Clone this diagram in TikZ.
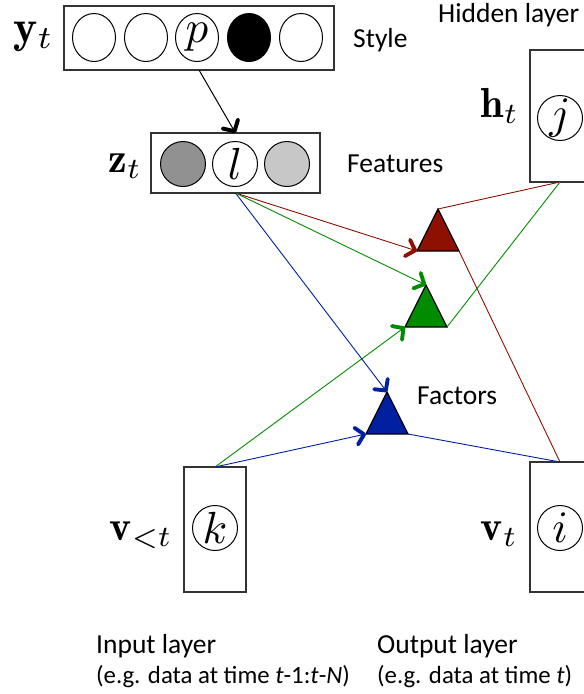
\documentclass[tikz,border=0pt]{standalone}
\usepackage{graphicx}
\usepackage{amsmath}
\usepackage{fontspec}
\newfontfamily\calibri{Carlito}
\usetikzlibrary{arrows.meta,shapes.geometric}

\definecolor{facred}{RGB}{142,16,0}
\definecolor{facgreen}{RGB}{0,140,0}
\definecolor{facblue}{RGB}{0,32,160}

% big math for layer names and unit letters
\newcommand{\layername}[1]{\scalebox{4.2}{$#1$}}
\newcommand{\unitname}[1]{\scalebox{4.5}{$#1$}}

\begin{document}
\begin{tikzpicture}[x=1pt,y=-1pt,
    box/.style={draw=black!80,line width=1.2pt,inner sep=0pt,outer sep=0pt},
    unit/.style={circle,draw,line width=1pt,minimum size=45pt,inner sep=0pt},
    topunit/.style={ellipse,draw,line width=1pt,minimum width=43pt,minimum height=48pt,
        inner sep=0pt},
    fac/.style={isosceles triangle,isosceles triangle stretches,shape border rotate=90,
        minimum width=42pt,minimum height=42pt,inner sep=0pt,outer sep=0pt,
        draw=black,line width=1.2pt,anchor=apex},
    lab/.style={anchor=base east,inner sep=0pt},
    txt/.style={font=\calibri\fontsize{27.5}{30}\selectfont,anchor=base west,inner sep=0pt},
    subtxt/.style={txt,font=\calibri\fontsize{24.8}{30}\selectfont},
    link/.style={line width=0.9pt},
    arr/.style={-{Straight Barb[length=8pt,width=17pt,line width=3pt 1,round]}}
]
\useasboundingbox (0,0) rectangle (584,694);
\clip (0,0) rectangle (584,694);

% style layer
\node[box,minimum width=270pt,minimum height=64pt] (ybox) at (199,38) {};
\node[topunit] (y1) at (94,37.5) {};
\node[topunit] (y2) at (146,37.5) {};
\node[topunit] (y3) at (197,37.5) {\unitname{p}};
\node[topunit,fill=black] (y4) at (249,37.5) {};
\node[topunit] (y5) at (301,37.5) {};
\node[lab] (ylab) at (54,42) {\scalebox{4.6}{$\mathbf{y}_t$}};
\node[txt] (stylelab) at (353,47) {Style};

% feature layer
\node[box,minimum width=169pt,minimum height=60pt] (zbox) at (235.5,163) {};
\node[unit,fill=black!43] (z1) at (183,164) {};
\node[unit] (z2) at (235,164) {\unitname{l}};
\node[unit,fill=black!22] (z3) at (287,164) {};
\node[lab] (zlab) at (142,172) {\layername{\mathbf{z}_t}};
\node[txt] (featlab) at (347,172) {Features};

% hidden layer
\node[box,minimum width=60pt,minimum height=132pt] (hbox) at (560,116) {};
\node[unit] (hj) at (560,118) {\unitname{j}};
\node[lab] (hlab) at (519,117) {\layername{\mathbf{h}_t}};
\node[txt] (hidlab) at (438,22) {Hidden layer};

% input and output layers
\node[box,minimum width=62pt,minimum height=125pt] (vibox) at (215,529.5) {};
\node[unit] (vk) at (215,528) {\unitname{k}};
\node[lab] (vilab) at (173,540) {\layername{\mathbf{v}_{<t}}};
\node[box,minimum width=60pt,minimum height=130pt] (vobox) at (560,527) {};
\node[unit] (vi) at (560,528) {\unitname{i}};
\node[lab] (volab) at (518,540) {\layername{\mathbf{v}_t}};
\node[txt] (inlab) at (96,653) {Input layer};
\node[subtxt] (insub) at (96,683) {(e.g. data at time \textit{t}-1:\textit{t}-\textit{N})};
\node[txt] (outlab) at (377,653) {Output layer};
\node[subtxt] (outsub) at (377,683) {(e.g. data at time \textit{t})};

% factors
\node[fac,fill=facred] (fr) at (438,209) {};
\node[fac,fill=facgreen] (fg) at (426,285) {};
\node[fac,fill=facblue] (fb) at (387,392) {};
\node[txt] (faclab) at (417,404) {Factors};

% connections
\draw[arr,line width=1pt] (ybox.south) -- (zbox.north);
\draw[link,facred,arr] (zbox.south) -- (fr.left corner);
\draw[link,facred] (fr.apex) -- (hbox.south);
\draw[link,facred] (fr.right corner) -- (vobox.north);
\draw[link,facgreen,arr] (zbox.south) -- (fg.apex);
\draw[link,facgreen,arr] (vibox.north) -- (fg.left corner);
\draw[link,facgreen] (fg.right corner) -- (hbox.south);
\draw[link,facblue,arr] (zbox.south) -- (fb.apex);
\draw[link,facblue,arr] (vibox.north) -- (fb.left corner);
\draw[link,facblue] (fb.right corner) -- (vobox.north);
\end{tikzpicture}
\end{document}
